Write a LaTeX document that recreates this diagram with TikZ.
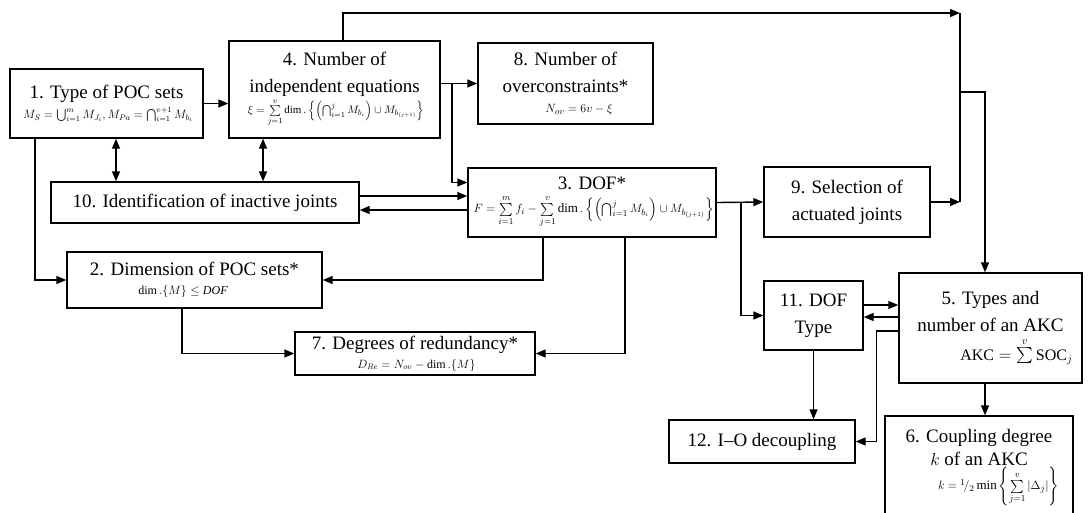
\documentclass[tikz,border=0pt]{standalone}
\usepackage{fontspec}
\setmainfont{Liberation Serif}
\usepackage{amsmath}
\usepackage{amssymb}
\usetikzlibrary{calc, positioning, arrows.meta}

\newcommand{\fml}[1]{\fontsize{#1}{#1}\selectfont}

\begin{document}
\begin{tikzpicture}[x=1pt, y=-1pt, line width=1.4pt, >={Triangle[length=10pt,width=8pt]},
  box/.style={draw, rectangle, align=center, inner sep=2pt, font=\fontsize{19}{27}\selectfont},
  every path/.style={line join=miter}]
  \useasboundingbox (0,0) rectangle (1089,512);

  \node[box, minimum width=193pt, minimum height=69pt] (b1) at (106.5,103.5)
    {1. Type of POC sets\\[-7pt]{\fml{12} $M_S=\bigcup_{i=1}^{m}M_{J_i}, M_{Pa}=\bigcap_{i=1}^{v+1}M_{b_i}$}};
  \node[box, minimum width=211pt, minimum height=97pt] (b4) at (334.5,89.5)
    {4. Number of\\independent equations\\[-6pt]{\fml{11} $\xi=\sum\limits_{j=1}^{v}\dim.\left\{\left(\bigcap_{i=1}^{j}M_{b_i}\right)\cup M_{b_{(j+1)}}\right\}$}};
  \node[box, minimum width=175pt, minimum height=81pt] (b8) at (565.5,83.5)
    {8. Number of\\overconstraints*\\[-7pt]\hspace*{24pt}{\fml{13} $N_{ov}=6v-\xi$}};
  \node[box, minimum width=308pt, minimum height=41pt] (b10) at (205,202.5)
    {10. Identification of inactive joints};
  \node[box, minimum width=248pt, minimum height=69pt] (b3) at (592,202.5)
    {3. DOF*\\[-4pt]{\fml{13} $F=\sum\limits_{i=1}^{m}f_i-\sum\limits_{j=1}^{v}\dim.\left\{\left(\bigcap_{i=1}^{j}M_{b_i}\right)\cup M_{b_{(j+1)}}\right\}$}};
  \node[box, minimum width=166pt, minimum height=70pt] (b9) at (847,202)
    {9. Selection of\\actuated joints};
  \node[box, minimum width=255pt, minimum height=56pt] (b2) at (194.5,280)
    {2. Dimension of POC sets*\\[-8pt]{\fml{12} $\dim.\{M\}\le \mathit{DOF}$}\hspace*{26pt}};
  \node[box, minimum width=240pt, minimum height=43pt] (b7) at (415,353.5)
    {7. Degrees of redundancy*\\[-8pt]{\fml{12} $D_{Re}=N_{ov}-\dim.\{M\}$}};
  \node[box, minimum width=99pt, minimum height=69pt] (b11) at (813.5,315.5)
    {11. DOF\\Type};
  \node[box, minimum width=183pt, minimum height=110pt] (b5) at (990.5,328)
    {5. Types and\\number of an AKC\\[2pt]\hspace*{48pt}{\fml{16} $\mathrm{AKC}=\sum\limits^{v}\mathrm{SOC}_j$}};
  \node[box, minimum width=188pt, minimum height=104pt] (b6) at (979,468)
    {6. Coupling degree\\[-4pt]$k$ of an AKC\\[-3pt]\hspace*{36pt}{\fml{13} $k={}^1\!/_2\min\left\{\sum\limits_{j=1}^{v}|\Delta_j|\right\}$}};
  \node[box, minimum width=186pt, minimum height=43pt] (b12) at (762,441.5)
    {12. I--O decoupling};

  \coordinate (j4) at (452,83.5);
  \coordinate (j3) at (741,202.5);
  \coordinate (m1) at (960,13);
  \coordinate (m2) at (960,92);

  \draw[->] (b1.east) -- (b1.east -| b4.west);
  \draw[->] (b4.east |- b8.west) -- (b8.west);
  \draw[->] (j4) |- ([yshift=20pt]b3.west);
  \draw[<->] ([xshift=9.5pt]b1.south) -- ([xshift=9.5pt]b1.south |- b10.north);
  \draw[<->] ([xshift=-71.5pt]b4.south) -- ([xshift=-71.5pt]b4.south |- b10.north);
  \draw[->] ([yshift=6.5pt]b10.east) -- ([yshift=6.5pt]b10.east -| b3.west);
  \draw[->] ([yshift=-7.5pt]b3.west) -- ([yshift=-7.5pt]b3.west -| b10.east);
  \draw[->] ([xshift=-71.5pt]b1.south) |- (b2.west);
  \draw[->] ([xshift=-49pt]b3.south) |- (b2.east);
  \draw[->] ([xshift=-12.5pt]b2.south) |- (b7.west);
  \draw[->] ([xshift=33pt]b3.south) |- (b7.east);
  \draw[->] (b3.east) -- (b9.west);
  \draw[->] (j3) |- (b11.west);
  \draw[->] ([xshift=8.5pt]b4.north) |- (m1);
  \draw[->] (b9.east) -- (b9.east -| m1);
  \draw (m1) -- (m1 |- b9.east);
  \draw[->] (m2) -| ([xshift=-5.5pt]b5.north);
  \draw[->] ([yshift=23pt]b5.west -| b11.east) -- ([yshift=23pt]b5.west);
  \draw[->] ([yshift=11pt]b5.west) -- ([yshift=11pt]b5.west -| b11.east);
  \draw[->] ([yshift=-3pt]b5.west) -- ++(-22,0) |- (b12.east);
  \draw[->] (b11.south) -- (b11.south |- b12.north);
  \draw[->] ([xshift=-5.5pt]b5.south) -- ([xshift=-5.5pt]b5.south |- b6.north);
 \end{tikzpicture}
\end{document}
